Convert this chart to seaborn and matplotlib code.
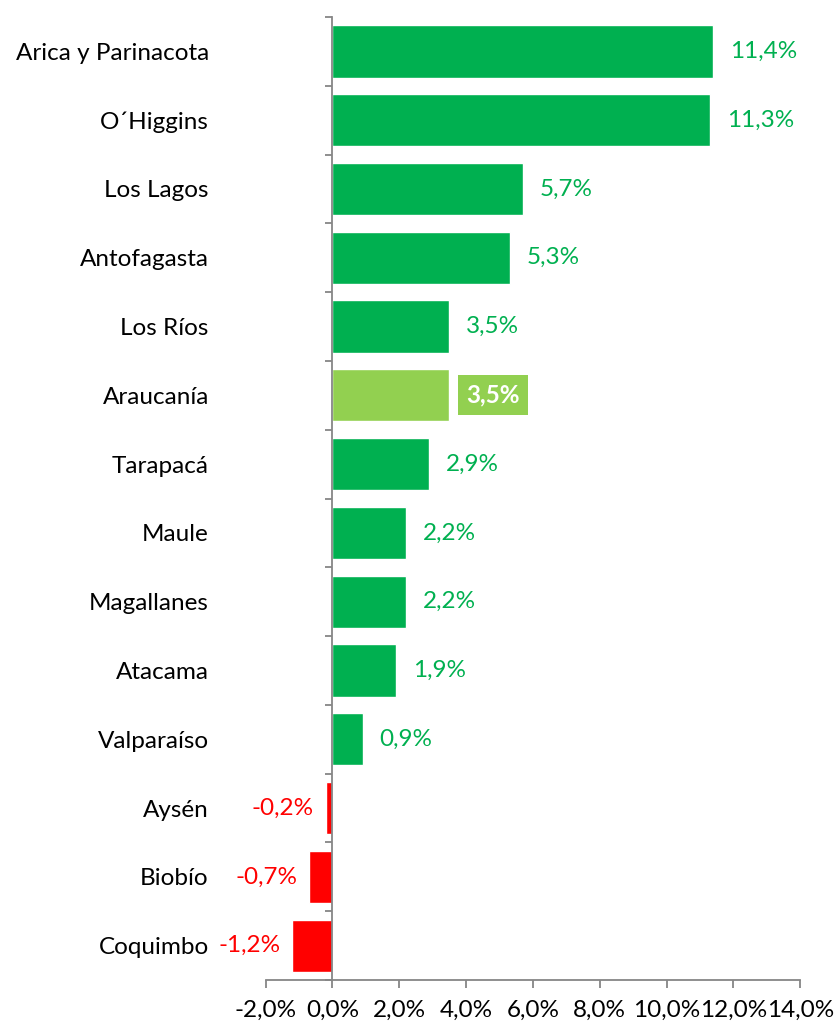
import matplotlib
matplotlib.use("Agg")
import matplotlib.pyplot as plt
import seaborn as sns
import pandas as pd
import numpy as np

regions = ["Arica y Parinacota", "O´Higgins", "Los Lagos", "Antofagasta", "Los Ríos",
           "Araucanía", "Tarapacá", "Maule", "Magallanes", "Atacama", "Valparaíso",
           "Aysén", "Biobío", "Coquimbo"]
values = [11.4, 11.3, 5.7, 5.3, 3.5, 3.5, 2.9, 2.2, 2.2, 1.9, 0.9, -0.2, -0.7, -1.2]
highlight = "Araucanía"
x_ticks = [-2, 0, 2, 4, 6, 8, 10, 12, 14]

GREEN = "#00B050"
LIGHT = "#92D050"
RED = "#FF0000"
GRAY = "#868686"
FS = 17.5

sns.set_theme(style="white")
plt.rcParams["font.family"] = ["Lato", "DejaVu Sans"]

df = pd.DataFrame({"region": regions, "value": values})
palette = {r: (LIGHT if r == highlight else (GREEN if v >= 0 else RED))
           for r, v in zip(regions, values)}

fig = plt.figure(figsize=(8.38, 10.26), dpi=100)
ax = fig.add_axes([0.317, 0.0448, 0.638, 0.9386])
sns.barplot(data=df, x="value", y="region", hue="region", palette=palette,
            orient="h", width=0.76, legend=False, ax=ax, saturation=1)

ax.set_xlim(-2, 14)
ax.set_ylim(len(regions) - 0.5, -0.5)
ax.set_xticks(x_ticks)
ax.set_xticklabels([f"{t:.1f}%".replace(".", ",") for t in x_ticks], fontsize=FS)
ax.set_xlabel("")
ax.set_ylabel("")

for s in ["top", "right"]:
    ax.spines[s].set_visible(False)
ax.spines["bottom"].set_color(GRAY)
ax.spines["bottom"].set_linewidth(1.3)
ax.spines["left"].set_position(("data", 0))
ax.spines["left"].set_color(GRAY)
ax.spines["left"].set_linewidth(1.3)

ax.tick_params(axis="x", direction="out", length=6, width=1.3, color=GRAY,
               pad=8, labelcolor="black", bottom=True)
ax.set_yticks(range(len(regions)))
ax.set_yticklabels(regions, fontsize=FS)
ax.tick_params(axis="y", which="major", length=0, pad=89, labelcolor="black", left=True)
ax.set_yticks(np.arange(-0.5, len(regions), 1.0), minor=True)
ax.tick_params(axis="y", which="minor", direction="out", length=5, width=1.3,
               color=GRAY, left=True)

for i, (r, v) in enumerate(zip(regions, values)):
    lab = f"{v:.1f}%".replace(".", ",")
    if r == highlight:
        ax.text(v + 0.5, i, lab, ha="left", va="center", fontsize=FS,
                fontweight="bold", color="white",
                bbox=dict(boxstyle="square,pad=0.35", fc=LIGHT, ec="none"))
    elif v >= 0:
        ax.text(v + 0.5, i, lab, ha="left", va="center", fontsize=FS, color=GREEN)
    else:
        ax.text(v - 0.35, i, lab, ha="right", va="center", fontsize=FS, color=RED)

fig.savefig("out.png", dpi=100)
